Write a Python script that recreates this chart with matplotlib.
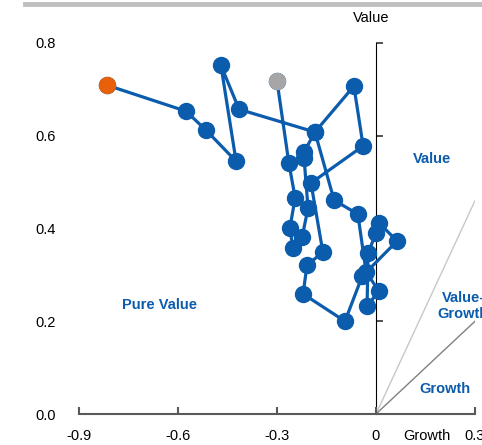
import matplotlib
matplotlib.use("Agg")
import matplotlib.pyplot as plt
from matplotlib.lines import Line2D

plt.rcParams['font.family'] = ['Liberation Sans', 'DejaVu Sans']

# Style-drift path (growth/value exposure), from start (grey) to latest (orange)
growth = [-0.300, -0.264, -0.245, -0.261, -0.252, -0.224, -0.206, -0.218, -0.218,
          -0.185, -0.127, -0.055, -0.030, 0.009, -0.027, -0.024, 0.000, 0.009,
          0.064, -0.042, -0.094, -0.221, -0.209, -0.161, -0.197, -0.039, -0.067,
          -0.185, -0.415, -0.470, -0.424, -0.515, -0.576, -0.815]
value = [0.718, 0.541, 0.466, 0.401, 0.358, 0.381, 0.444, 0.552, 0.565,
         0.608, 0.461, 0.431, 0.306, 0.265, 0.233, 0.347, 0.390, 0.412,
         0.373, 0.297, 0.200, 0.259, 0.321, 0.349, 0.498, 0.578, 0.707,
         0.608, 0.657, 0.752, 0.545, 0.612, 0.653, 0.709]

x_ticks = [-0.9, -0.6, -0.3, 0, 0.3]
x_tick_labels = ["-0.9", "-0.6", "-0.3", "0", "0.3"]
y_ticks = [0.0, 0.2, 0.4, 0.6, 0.8]
y_tick_labels = ["0.0", "0.2", "0.4", "0.6", "0.8"]

boundary_upper = (0.3, 0.46)   # value-growth / value boundary
boundary_lower = (0.3, 0.20)   # growth / value-growth boundary

blue = "#0B5CAD"
orange = "#E8600A"
grey_pt = "#A6A6A6"

fig = plt.figure(figsize=(4.82, 4.45), dpi=100)
ax = fig.add_axes([79/482, 31/445, 396/482, 371/445])
ax.set_xlim(-0.9, 0.3)
ax.set_ylim(0, 0.8)

for s in ['top', 'right', 'left']:
    ax.spines[s].set_visible(False)
ax.spines['bottom'].set_color('#595959')
ax.spines['bottom'].set_linewidth(1.5)

ax.set_xticks(x_ticks)
ax.set_xticklabels(x_tick_labels)
ax.tick_params(axis='x', direction='in', length=5, width=1.5, color='#595959',
               pad=11, labelsize=10.5)
ax.set_yticks(y_ticks)
ax.set_yticklabels(y_tick_labels)
ax.tick_params(axis='y', length=0, pad=17, labelsize=10.5)

# vertical axis at growth = 0
sec = ax.secondary_yaxis(0.75)
sec.set_yticks(y_ticks)
sec.set_yticklabels([])
sec.spines['left'].set_color('#595959')
sec.spines['left'].set_linewidth(1.5)
sec.tick_params(axis='y', direction='out', length=5, width=1.2, color='#333333')

# boundary lines
ax.plot([0, boundary_upper[0]], [0, boundary_upper[1]], color='#C8C8C8', lw=1, zorder=1)
ax.plot([0, boundary_lower[0]], [0, boundary_lower[1]], color='#808080', lw=1, zorder=1)

# path
ax.plot(growth, value, color=blue, lw=2.3, marker='o', markersize=11.5,
        markerfacecolor=blue, markeredgecolor=blue, zorder=3, clip_on=False)
ax.plot([growth[0]], [value[0]], marker='o', markersize=11.5, color=grey_pt,
        linestyle='none', zorder=4, clip_on=False)
ax.plot([growth[-1]], [value[-1]], marker='o', markersize=11.5, color=orange,
        linestyle='none', zorder=4, clip_on=False)

# region labels
lbl = dict(color=blue, fontsize=10.5, fontweight='bold', ha='center', va='center')
ax.text(0.170, 0.550, "Value", **lbl)
ax.text(-0.655, 0.235, "Pure Value", **lbl)
ax.text(0.264, 0.233, "Value-\nGrowth", linespacing=1.25, **lbl)
ax.text(0.209, 0.054, "Growth", **lbl)

# axis labels
ax.text(-0.015, 0.853, "Value", fontsize=10.5, ha='center', va='center')
ax.text(0.155, -0.048, "Growth", fontsize=10.5, ha='center', va='center')

# top grey rule
fig.add_artist(Line2D([25/482, 1.0], [1 - 4/445, 1 - 4/445], color='#BFBFBF',
                      lw=3.5, transform=fig.transFigure))

fig.savefig("out.png", dpi=100)
